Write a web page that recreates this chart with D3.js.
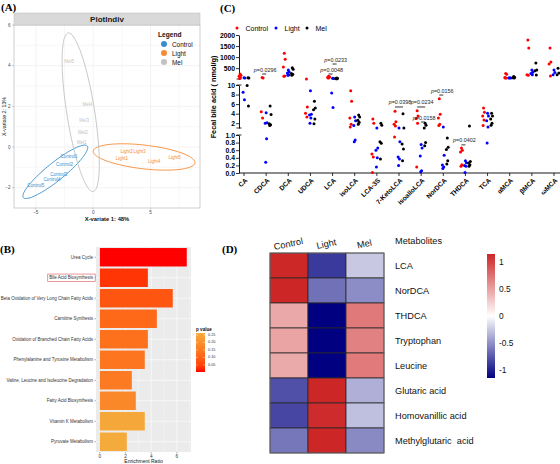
<!DOCTYPE html>
<html><head><meta charset="utf-8">
<script src="https://cdn.jsdelivr.net/npm/d3@7"></script>
<style>body{margin:0;background:#fff}svg{display:block}</style>
</head><body>
<svg id="c" width="560" height="464"></svg>
<script>
// ================= DATA =================
// Panel A (PLS-DA sample plot)
const plsdaGroups = ["Control","Light","Mel"];
const plsdaColors = ["#388ECC","#F68B33","#C2C2C2"];
const sampleNames = ["Control1","Control2","Control3","Control4","Control5","Light1","Light2","Light3","Light4","Light5","Mel1","Mel2","Mel3","Mel4","Mel5"];
const sampleGroup = [0,0,0,0,0,1,1,1,1,1,2,2,2,2,2];
const variate1 = [-2.1,-2.5,-3.0,-3.6,-5.0, 2.5,2.9,4.05,5.3,7.1, -1.0,-0.9,-0.8,-0.5,-2.1];
const variate2 = [-0.49,-0.88,-1.33,-1.62,-1.88, -0.56,-0.24,-0.24,-0.73,-0.54, 0.2,0.7,1.3,2.1,4.2];
const ellipseCX = [-3.30, 4.43, -1.09];
const ellipseCY = [-1.22, -0.49, 1.71];
const ellipseMajor = [[2.78,1.27],[4.43,-0.29],[-1.09,3.90]];
const ellipseMinor = [[0.49,-0.34],[-0.12,-0.58],[1.20,0.107]];
const xTicksA = [-5,0,5];
const yTicksA = [-2,0,2,4,6];

// Panel B (pathway enrichment)
const pathways = ["Urea Cycle","Bile Acid Biosynthesis","Beta Oxidation of Very Long Chain Fatty Acids","Carnitine Synthesis","Oxidation of Branched Chain Fatty Acids","Phenylalanine and Tyrosine Metabolism","Valine, Leucine and Isoleucine Degradation","Fatty Acid Biosynthesis","Vitamin K Metabolism","Pyruvate Metabolism"];
const enrichRatio = [6.77,3.74,5.68,4.44,3.74,3.50,2.49,2.80,3.50,2.10];
const pValues = [0.003,0.035,0.08,0.115,0.13,0.14,0.15,0.18,0.255,0.263];
const xTicksB = [0,2,4,6];
const pLegendTicks = [0.05,0.10,0.15,0.20,0.25];

// Panel C (fecal bile acids)
const bileAcids = ["CA","CDCA","DCA","UDCA","LCA","isoLCA","LCA-3S","7-KetoLCA","isoalloLCA","NorDCA","THDCA","TCA","αMCA","βMCA","ωMCA"];
const bileGroups = ["Control","Light","Mel"];
const bileColors = ["#FF0000","#0000FF","#000000"];
const controlVals = [
 [240,180,130,80,30],[80,60,4.4,3.1],[1180,900,550,150,140],[12,5.4,4.1,3.3],[130,110,90,70,50],
 [8.8,6.6,3.1,1.8,1.2],[2.9,2.0,0.5,0.42,0.01],[4.5,2.3,1.8,1.4,0.95],[4.6,3.5,3.0,2.0,0.16],[7.1,3.9,3.1,1.8,1.5],
 [0.66,0.6,0.55,0.22,0.18],[5.2,4.3,3.5,2.7,1.5],[260,230,80,60,50],[1770,1410,200,180],[1410,780,690,150]
];
const lightVals = [
 [70,50,8.5,6.9],[4.2,2.1,2.0,0.9,0.28],[420,330,280,190,180],[8.8,3.9,3.7,3.1,2.0],[40,30,8.3,5.3],
 [3.3,2.5,1.5,0.87,0.82],[1.0,0.66,0.6,0.4,0.16],[1.0,0.82,0.42,0.37,0.2],[0.75,0.66,0.45,0.06,0.03],[1.2,0.47,0.21,0.16,0.12],
 [0.32,0.27,0.2,0.18,0.01],[4.1,3.5,2.5,1.2,0.79],[70,60,50],[420,320,260,200],[420,300,200]
];
const melVals = [
 [70,55,9.9,5.6],[5.6,3.8,1.9,1.7,1.5],[520,450,260,230,180],[6.6,5.2,4.8,2.9,1.9],[50,40,30,25,20],
 [3.7,3.3,2.6,2.2,1.8],[2.0,1.6,0.82,0.78,0.37],[4.0,1.0,0.76,0.63,0.32],[2.0,1.6,1.0,0.8,0.72],[0.92,0.68,0.62,0.32,0.24],
 [1.4,0.3,0.26,0.22,0.18],[4.1,3.5,2.9,2.0,1.6],[120,90,70,60],[730,420,380,190],[500,280,200]
];
const yTicksTop = [500,1000,1500,2000];
const yTicksMid = [2,4,6,8,10];
const yTicksLow = [0,0.2,0.4,0.6,0.8,1.0];
const pTexts = ["0.0296","0.0048","0.0233","0.0398","0.0234","0.0158","0.0156","0.0402"];
const pCats = ["CDCA","LCA","LCA","7-KetoLCA","isoalloLCA","isoalloLCA","NorDCA","THDCA"];
const pPairs = [[0,1],[0,1],[1,2],[0,2],[0,2],[1,2],[0,1],[0,1]];
const pLevels = [236,236,688,5.4,5.4,2.25,7.9,0.74];

// Panel D (heatmap)
const heatCols = ["Control","Light","Mel"];
const metabolites = ["LCA","NorDCA","THDCA","Tryptophan","Leucine","Glutaric acid","Homovanillic acid","Methylglutaric  acid"];
const heatVals = [
 [1.14,-0.89,-0.25],
 [1.15,-0.64,-0.52],
 [0.46,-1.15,0.71],
 [0.48,-1.15,0.67],
 [0.45,-1.15,0.70],
 [-0.79,1.15,-0.36],
 [-0.83,1.12,-0.29],
 [-0.62,1.15,-0.53]
];
const heatLegendTicks = [1,0.5,0,-0.5,-1];

// ================= DRAW =================
const svg = d3.select("#c");
const SANS = "'Liberation Sans', Arial, Helvetica, sans-serif";
const SERIF = "'Liberation Serif', 'Times New Roman', serif";
svg.append("rect").attr("width",560).attr("height",464).attr("fill","#fff");

function panelLabel(txt,x,y){
  svg.append("text").attr("x",x).attr("y",y).text(txt)
    .attr("font-family",SERIF).attr("font-weight","bold").attr("font-size",11).attr("fill","#000");
}
panelLabel("(A)",1,11); panelLabel("(C)",220,12); panelLabel("(B)",0,253); panelLabel("(D)",222,253);

// ---------- Panel A ----------
(function(){
  const g = svg.append("g");
  const x = d3.scaleLinear().domain([-6.9,9.3]).range([14,200]);
  const y = d3.scaleLinear().domain([-3,6]).range([208,25]);
  const [x0,x1]=x.range(), [y0,y1]=y.range();
  g.append("rect").attr("x",x0).attr("y",y1).attr("width",x1-x0).attr("height",y0-y1).attr("fill","#fff");
  d3.range(-5,9.3,2.5).forEach(v=>{
    g.append("line").attr("x1",x(v)).attr("x2",x(v)).attr("y1",y1).attr("y2",y0)
     .attr("stroke","#EBEBEB").attr("stroke-width", v%5===0?0.6:0.35);
  });
  d3.range(-2,6.01,1).forEach(v=>{
    g.append("line").attr("x1",x0).attr("x2",x1).attr("y1",y(v)).attr("y2",y(v))
     .attr("stroke","#EBEBEB").attr("stroke-width", v%2===0?0.6:0.35);
  });
  const line = d3.line().x(d=>x(d[0])).y(d=>y(d[1]));
  plsdaGroups.forEach((grp,i)=>{
    const pts = d3.range(0,101).map(k=>{
      const t=k/100*2*Math.PI;
      return [ellipseCX[i]+Math.cos(t)*ellipseMajor[i][0]+Math.sin(t)*ellipseMinor[i][0],
              ellipseCY[i]+Math.cos(t)*ellipseMajor[i][1]+Math.sin(t)*ellipseMinor[i][1]];
    });
    g.append("path").attr("d",line(pts)).attr("fill","none").attr("stroke",plsdaColors[i]).attr("stroke-width",0.9);
  });
  sampleNames.forEach((n,i)=>{
    g.append("text").attr("x",x(variate1[i])).attr("y",y(variate2[i])).text(n)
     .attr("text-anchor","middle").attr("dominant-baseline","central")
     .attr("font-family",SANS).attr("font-size",4.5).attr("fill",plsdaColors[sampleGroup[i]]);
  });
  g.append("rect").attr("x",x0).attr("y",y1).attr("width",x1-x0).attr("height",y0-y1)
   .attr("fill","none").attr("stroke","#B0B0B0").attr("stroke-width",0.6);
  g.append("rect").attr("x",x0).attr("y",13).attr("width",x1-x0).attr("height",y1-13)
   .attr("fill","#D9D9D9").attr("stroke","#BDBDBD").attr("stroke-width",0.5);
  g.append("text").attr("x",(x0+x1)/2).attr("y",19.3).text("PlotIndiv").attr("text-anchor","middle")
   .attr("dominant-baseline","central").attr("font-family",SANS).attr("font-weight","bold").attr("font-size",8).attr("fill","#1a1a1a");
  xTicksA.forEach(v=>{
    g.append("line").attr("x1",x(v)).attr("x2",x(v)).attr("y1",y0).attr("y2",y0+1.5).attr("stroke","#888").attr("stroke-width",0.4);
    g.append("text").attr("x",x(v)).attr("y",y0+2.5).text(v<0?"\u2212"+(-v):v).attr("text-anchor","middle")
     .attr("dominant-baseline","hanging").attr("font-family",SANS).attr("font-size",4.6).attr("fill","#4D4D4D");
  });
  yTicksA.forEach(v=>{
    g.append("line").attr("x1",x0-2).attr("x2",x0).attr("y1",y(v)).attr("y2",y(v)).attr("stroke","#888").attr("stroke-width",0.4);
    g.append("text").attr("x",x0-3.5).attr("y",y(v)).text(v<0?"\u2212"+(-v):v).attr("text-anchor","end")
     .attr("dominant-baseline","central").attr("font-family",SANS).attr("font-size",4.6).attr("fill","#4D4D4D");
  });
  g.append("text").attr("x",(x0+x1)/2).attr("y",219).text("X-variate 1: 48%").attr("text-anchor","middle")
   .attr("dominant-baseline","central").attr("font-family",SANS).attr("font-weight","600").attr("font-size",5.8).attr("fill","#111");
  g.append("text").attr("transform",`translate(4,${(y0+y1)/2}) rotate(-90)`).text("X-variate 2: 13%").attr("text-anchor","middle")
   .attr("dominant-baseline","central").attr("font-family",SANS).attr("font-size",5.3).attr("fill","#111");
  g.append("text").attr("x",158).attr("y",34).text("Legend").attr("dominant-baseline","central")
   .attr("font-family",SANS).attr("font-weight","bold").attr("font-size",6.6).attr("fill","#111");
  plsdaGroups.forEach((grp,i)=>{
    const yy=44+i*9;
    g.append("circle").attr("cx",164).attr("cy",yy).attr("r",3).attr("fill",plsdaColors[i]);
    g.append("text").attr("x",172).attr("y",yy).text(grp).attr("dominant-baseline","central")
     .attr("font-family",SANS).attr("font-size",6.4).attr("fill","#111");
  });
})();

// ---------- Panel B ----------
(function(){
  const g = svg.append("g");
  const x = d3.scaleLinear().domain([-0.3,7.1]).range([96,191]);
  const y = d3.scaleBand().domain(pathways).range([247,452]).paddingInner(0.1).paddingOuter(0.05);
  const [x0,x1]=x.range(), [y0,y1]=y.range();
  const pExt = d3.extent(pValues);
  const col = d3.scaleLinear().domain(pExt).range(["#FF0000","#F5AA3C"]).interpolate(d3.interpolateLab);
  g.append("rect").attr("x",x0).attr("y",y0).attr("width",x1-x0).attr("height",y1-y0).attr("fill","#EBEBEB");
  d3.range(0,7.5,1).forEach(v=>{
    g.append("line").attr("x1",x(v)).attr("x2",x(v)).attr("y1",y0).attr("y2",y1)
     .attr("stroke","#fff").attr("stroke-width", v%2===0?0.6:0.3);
  });
  pathways.forEach(p=>{
    g.append("line").attr("x1",x0).attr("x2",x1).attr("y1",y(p)+y.bandwidth()/2).attr("y2",y(p)+y.bandwidth()/2)
     .attr("stroke","#fff").attr("stroke-width",0.6);
  });
  pathways.forEach((p,i)=>{
    g.append("rect").attr("x",x(0)).attr("y",y(p)).attr("width",x(enrichRatio[i])-x(0)).attr("height",y.bandwidth())
     .attr("fill",col(pValues[i]));
  });
  pathways.forEach((p,i)=>{
    const cy=y(p)+y.bandwidth()/2;
    g.append("line").attr("x1",x0-1.5).attr("x2",x0).attr("y1",cy).attr("y2",cy).attr("stroke","#333").attr("stroke-width",0.4);
    const t=g.append("text").attr("x",x0-3).attr("y",cy).text(p).attr("text-anchor","end").attr("dominant-baseline","central")
     .attr("font-family",SANS).attr("font-size",4.5).attr("fill","#333");
    if(p==="Bile Acid Biosynthesis"){
      const bb=t.node().getBBox();
      g.append("rect").attr("x",bb.x-1.5).attr("y",bb.y-1.2).attr("width",bb.width+3).attr("height",bb.height+2.4)
       .attr("fill","none").attr("stroke","#E46B6B").attr("stroke-width",0.7);
    }
  });
  xTicksB.forEach(v=>{
    g.append("line").attr("x1",x(v)).attr("x2",x(v)).attr("y1",y1).attr("y2",y1+1.5).attr("stroke","#333").attr("stroke-width",0.4);
    g.append("text").attr("x",x(v)).attr("y",y1+3).text(v).attr("text-anchor","middle").attr("dominant-baseline","hanging")
     .attr("font-family",SANS).attr("font-size",4.6).attr("fill","#333");
  });
  g.append("text").attr("x",(x0+x1)/2).attr("y",461).text("Enrichment Ratio").attr("text-anchor","middle")
   .attr("dominant-baseline","central").attr("font-family",SANS).attr("font-size",5).attr("fill","#111");
  const ly = d3.scaleLinear().domain(pExt).range([372,333]);
  const defs = svg.append("defs");
  const grad = defs.append("linearGradient").attr("id","pgrad").attr("x1",0).attr("y1",1).attr("x2",0).attr("y2",0);
  d3.range(0,1.01,0.1).forEach(t=>{
    grad.append("stop").attr("offset",t).attr("stop-color",col(pExt[0]+t*(pExt[1]-pExt[0])));
  });
  g.append("text").attr("x",196).attr("y",329).text("p value").attr("dominant-baseline","central")
   .attr("font-family",SANS).attr("font-weight","bold").attr("font-size",4.6).attr("fill","#111");
  g.append("rect").attr("x",196).attr("y",ly.range()[1]).attr("width",9).attr("height",ly.range()[0]-ly.range()[1]).attr("fill","url(#pgrad)");
  pLegendTicks.forEach(v=>{
    g.append("line").attr("x1",196).attr("x2",198).attr("y1",ly(v)).attr("y2",ly(v)).attr("stroke","#fff").attr("stroke-width",0.4);
    g.append("line").attr("x1",203).attr("x2",205).attr("y1",ly(v)).attr("y2",ly(v)).attr("stroke","#fff").attr("stroke-width",0.4);
    g.append("text").attr("x",208).attr("y",ly(v)).text(v.toFixed(2)).attr("dominant-baseline","central")
     .attr("font-family",SANS).attr("font-size",3.8).attr("fill","#333");
  });
})();

// ---------- Panel C ----------
(function(){
  const g = svg.append("g");
  const x = d3.scalePoint().domain(bileAcids).range([244,554]);
  const yTop = d3.scaleLinear().domain([10,2000]).range([79,35]);
  const yMid = d3.scaleLinear().domain([1,10]).range([128,85]);
  const yLow = d3.scaleLinear().domain([0,1]).range([173,135]);
  const yv = v => v>=10 ? yTop(v) : (v>=1 ? yMid(v) : yLow(v));
  const axX = 239;
  const groupOffset = [-4,0,4];
  const jit = [0,0.9,-0.9,0.45,-0.45];
  const allVals=[controlVals,lightVals,melVals];
  function seg(scale,ticks,fmt){
    const ax = g.append("g").attr("transform",`translate(${axX},0)`)
      .call(d3.axisLeft(scale).tickValues(ticks).tickSize(3).tickSizeOuter(0).tickFormat(fmt));
    ax.select(".domain").attr("stroke","#000").attr("stroke-width",0.9);
    ax.selectAll(".tick line").attr("stroke","#000").attr("stroke-width",0.8);
    ax.selectAll(".tick text").attr("font-family",SANS).attr("font-weight","bold").attr("font-size",6.8).attr("fill","#000").attr("x",-4);
  }
  seg(yTop,yTicksTop,d3.format("d"));
  seg(yMid,yTicksMid,d3.format("d"));
  seg(yLow,yTicksLow,d3.format(".1f"));
  [yTop.range()[0],yMid.range()[1],yMid.range()[0],yLow.range()[1]].forEach(yy=>{
    g.append("line").attr("x1",axX-2.5).attr("x2",axX+2.5).attr("y1",yy).attr("y2",yy).attr("stroke","#000").attr("stroke-width",0.8);
  });
  const baseY = yLow(0);
  g.append("line").attr("x1",axX).attr("x2",560).attr("y1",baseY).attr("y2",baseY).attr("stroke","#000").attr("stroke-width",0.9);
  bileAcids.forEach(c=>{
    g.append("line").attr("x1",x(c)).attr("x2",x(c)).attr("y1",baseY).attr("y2",baseY+3).attr("stroke","#000").attr("stroke-width",0.8);
    g.append("text").attr("transform",`translate(${x(c)+2},${baseY+6}) rotate(-45)`).text(c).attr("text-anchor","end")
     .attr("dominant-baseline","central").attr("font-family",SANS).attr("font-weight","bold").attr("font-size",6.6).attr("fill","#000");
  });
  g.append("text").attr("transform",`translate(213.5,97) rotate(-90)`).text("Fecal bile acid ( nmol/g)").attr("text-anchor","middle")
   .attr("dominant-baseline","central").attr("font-family",SANS).attr("font-weight","bold").attr("font-size",7.3).attr("fill","#000");
  allVals.forEach((arr,gi)=>{
    arr.forEach((vals,ci)=>{
      vals.forEach((v,k)=>{
        g.append("circle").attr("cx",x(bileAcids[ci])+groupOffset[gi]+jit[k%5]).attr("cy",yv(v)).attr("r",1.5).attr("fill",bileColors[gi]);
      });
    });
  });
  pTexts.forEach((t,i)=>{
    const cx=x(pCats[i]);
    const xa=cx+groupOffset[pPairs[i][0]], xb=cx+groupOffset[pPairs[i][1]];
    const yy=yv(pLevels[i]);
    g.append("line").attr("x1",xa).attr("x2",xb).attr("y1",yy).attr("y2",yy).attr("stroke","#000").attr("stroke-width",0.8);
    const tx=g.append("text").attr("x",(xa+xb)/2+1).attr("y",yy-2.5).attr("text-anchor","middle")
     .attr("font-family",SANS).attr("font-size",5.4).attr("fill","#222");
    tx.append("tspan").attr("font-style","italic").text("p");
    tx.append("tspan").text("="+t);
  });
  bileGroups.forEach((grp,i)=>{
    const lx=[237,276,307][i];
    g.append("circle").attr("cx",lx).attr("cy",28).attr("r",1.5).attr("fill",bileColors[i]);
    g.append("text").attr("x",lx+8.5).attr("y",28).text(grp).attr("dominant-baseline","central")
     .attr("font-family",SANS).attr("font-size",7).attr("fill","#000");
  });
})();

// ---------- Panel D ----------
(function(){
  const g = svg.append("g");
  const x = d3.scaleBand().domain(heatCols).range([270,384]);
  const y = d3.scaleBand().domain(metabolites).range([253,453]);
  const col = d3.scaleLinear().domain([-1.15,0,1.15]).range(["#000080","#FFFFFF","#CD2626"]);
  metabolites.forEach((m,r)=>{
    heatCols.forEach((c,k)=>{
      g.append("rect").attr("x",x(c)).attr("y",y(m)).attr("width",x.bandwidth()).attr("height",y.bandwidth())
       .attr("fill",col(heatVals[r][k])).attr("stroke","#2a2a2a").attr("stroke-width",0.8);
    });
    g.append("text").attr("x",x.range()[1]+11).attr("y",y(m)+y.bandwidth()/2).text(m).attr("dominant-baseline","central")
     .attr("font-family",SANS).attr("font-size",9.2).attr("fill","#111").style("white-space","pre");
  });
  g.append("rect").attr("x",x.range()[0]).attr("y",y.range()[0]).attr("width",x.range()[1]-x.range()[0]).attr("height",y.range()[1]-y.range()[0])
   .attr("fill","none").attr("stroke","#777").attr("stroke-width",0.8);
  heatCols.forEach(c=>{
    g.append("text").attr("transform",`translate(${x(c)+x.bandwidth()/2},247) rotate(-12)`).text(c).attr("text-anchor","middle")
     .attr("font-family",SANS).attr("font-size",9.2).attr("fill","#111");
  });
  g.append("text").attr("x",x.range()[1]+11).attr("y",244).text("Metabolites").attr("font-family",SANS).attr("font-size",9.2).attr("fill","#111");
  const ly = d3.scaleLinear().domain([-1.15,1.15]).range([378,254]);
  const grad = svg.append("defs").append("linearGradient").attr("id","hgrad").attr("x1",0).attr("y1",1).attr("x2",0).attr("y2",0);
  d3.range(0,1.001,0.05).forEach(t=>grad.append("stop").attr("offset",t).attr("stop-color",col(-1.15+2.3*t)));
  g.append("rect").attr("x",487).attr("y",ly.range()[1]).attr("width",8).attr("height",ly.range()[0]-ly.range()[1]).attr("fill","url(#hgrad)");
  heatLegendTicks.forEach(v=>{
    g.append("text").attr("x",499).attr("y",ly(v)).text(v).attr("dominant-baseline","central")
     .attr("font-family",SANS).attr("font-size",8.4).attr("fill","#111");
  });
})();
</script>
</body></html>
